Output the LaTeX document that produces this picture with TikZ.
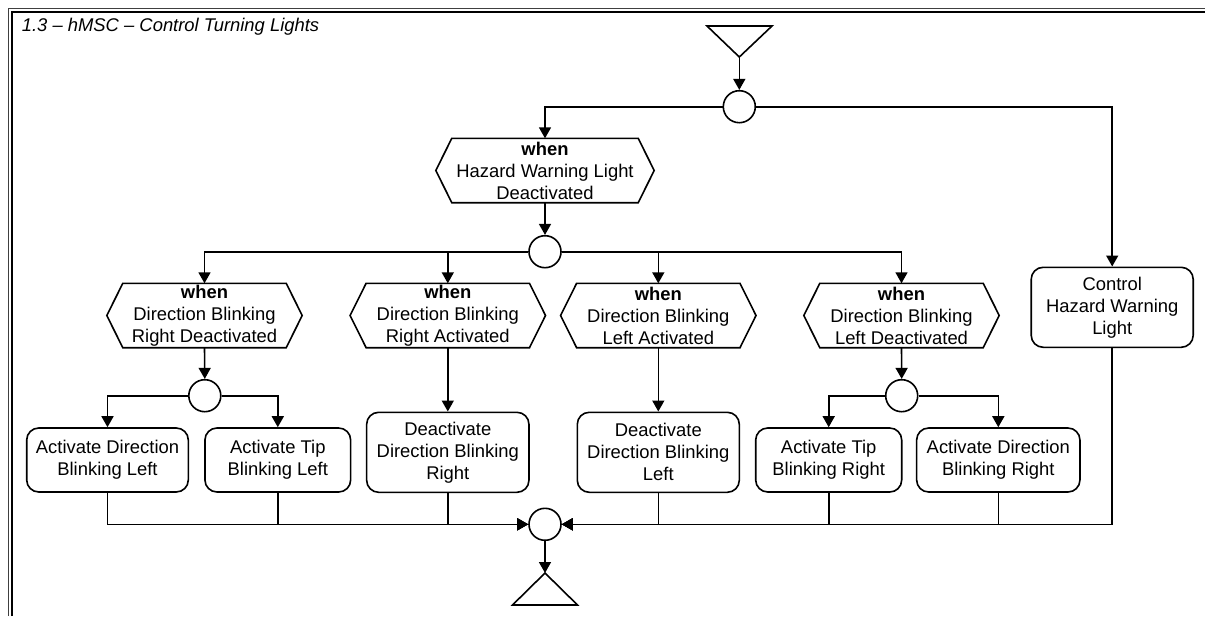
\documentclass[tikz,border=0pt]{standalone}
\usepackage{fontspec}
\setmainfont{Liberation Sans}
\usetikzlibrary{arrows.meta}
\newcommand{\hexnode}[5]{%
  \node[hexin,minimum width=#4] (#1) at (#2,#3) {#5};
  \draw[ln,line join=miter] (#1.west) -- ([xshift=16pt]#1.north west) -- ([xshift=-16pt]#1.north east) -- (#1.east) -- ([xshift=-16pt]#1.south east) -- ([xshift=16pt]#1.south west) -- cycle;}
\begin{document}
\begin{tikzpicture}[x=1pt,y=-1pt,
  every node/.style={font=\fontsize{18.4}{22}\selectfont},
  ln/.style={line width=1.6pt},
  arr/.style={ln,-{Triangle[length=11pt,width=12pt]}},
  box/.style={draw,ln,rounded corners=12pt,align=center,inner sep=0pt},
  circ/.style={draw,ln,circle,minimum size=32pt,inner sep=0pt},
  hexin/.style={align=center,inner sep=0pt,minimum height=64pt}]
\useasboundingbox[fill=white] (0,0) rectangle (1205,616);
% frame
\draw[line width=1pt,black!75] (8.5,616) -- (8.5,8.5) -- (1205,8.5);
\draw[line width=1.6pt] (12,616) -- (12,12) -- (1205,12);
\node[anchor=base west,inner sep=0pt] (title) at (21.7,31.7) {\itshape 1.3 – hMSC – Control Turning Lights};
% start triangle
\coordinate (sa) at (739.3,57);
\draw[ln,line join=miter] (707,26) -- (772,26) -- (sa) -- cycle;
% circles
\node[circ] (c0) at (739.3,106.7) {};
\node[circ] (c1) at (545,251.7) {};
\node[circ] (c2) at (204.8,395.7) {};
\node[circ] (c3) at (901.7,395.7) {};
\node[circ] (cm) at (545,524.3) {};
% hexagons
\hexnode{hz}{545}{170.5}{218pt}{\textbf{when}\\Hazard Warning Light\\Deactivated}
\hexnode{d1}{204.5}{315.5}{195pt}{\textbf{when}\\Direction Blinking\\Right Deactivated}
\hexnode{d2}{447.8}{315.5}{195pt}{\textbf{when}\\Direction Blinking\\Right Activated}
\hexnode{d3}{658.3}{315.5}{195pt}{\textbf{when}\\Direction Blinking\\Left Activated}
\hexnode{d4}{901.5}{315.5}{195pt}{\textbf{when}\\Direction Blinking\\Left Deactivated}
% boxes
\node[box,minimum width=162pt,minimum height=80pt] (bc) at (1112.2,307.3) {Control\\Hazard Warning\\Light};
\node[box,minimum width=161.6pt,minimum height=64pt] (b1) at (107.5,460) {Activate Direction\\Blinking Left};
\node[box,minimum width=145.7pt,minimum height=64pt] (b2) at (277.8,460) {Activate Tip\\Blinking Left};
\node[box,minimum width=162.3pt,minimum height=80pt] (b3) at (447.8,452.3) {Deactivate\\Direction Blinking\\Right};
\node[box,minimum width=162pt,minimum height=80pt] (b4) at (658.3,452.3) {Deactivate\\Direction Blinking\\Left};
\node[box,minimum width=146pt,minimum height=64pt] (b5) at (828.7,460) {Activate Tip\\Blinking Right};
\node[box,minimum width=163.3pt,minimum height=64pt] (b6) at (998.3,460) {Activate Direction\\Blinking Right};
% end triangle
\coordinate (ea) at (545,573);
\draw[ln,line join=miter] (ea) -- (577.5,605) -- (512.5,605) -- cycle;
% connectors
\draw[arr] (sa) -- (c0.north);
\draw[arr] (c0.west) -| (hz.north);
\draw[arr] (c0.east) -| (bc.north);
\draw[arr] (hz.south) -- (c1.north);
\draw[arr] (c1.west) -| (d1.north);
\draw[arr] (c1.west) -| (d2.north);
\draw[arr] (c1.east) -| (d3.north);
\draw[arr] (c1.east) -| (d4.north);
\draw[arr] (d1.south) -- (c2.north);
\draw[arr] (c2.west) -| (b1.north);
\draw[arr] (c2.east) -| (b2.north);
\draw[arr] (d2.south) -- (b3.north);
\draw[arr] (d3.south) -- (b4.north);
\draw[arr] (d4.south) -- (c3.north);
\draw[arr] (c3.west) -| (b5.north);
\draw[arr] (c3.east) -| (b6.north);
\draw[arr] (b1.south) |- (cm.west);
\draw[arr] (b2.south) |- (cm.west);
\draw[arr] (b3.south) |- (cm.west);
\draw[arr] (b4.south) |- (cm.east);
\draw[arr] (b5.south) |- (cm.east);
\draw[arr] (b6.south) |- (cm.east);
\draw[arr] (bc.south) |- (cm.east);
\draw[arr] (cm.south) -- (ea);
\end{tikzpicture}
\end{document}
